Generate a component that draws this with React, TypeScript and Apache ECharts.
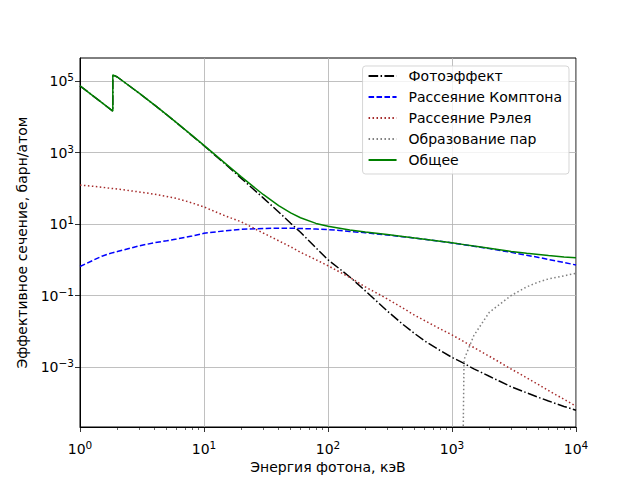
import { useEffect, useRef } from 'react';
import * as echarts from 'echarts';

// Photon energy, keV (1.839 keV repeated: Si K-edge)
const energies = [1, 1.5, 1.839, 1.839, 2, 3, 4, 5, 6, 8, 10, 15, 20, 30, 40, 50, 60, 80, 100, 150, 200, 300, 400, 500, 600, 800, 1000, 1250, 1500, 2000, 3000, 4000, 5000, 6000, 8000, 10000];

// Cross-sections, barn/atom
const photoValues = [73080, 24840, 14320, 148800, 129400, 45550, 21050, 11370, 6800, 2970, 1545, 460, 189, 54, 21.7, 10.5, 5.9, 2.15, 1.0, 0.33, 0.135, 0.037, 0.0158, 0.0086, 0.0054, 0.0029, 0.00186, 0.00126, 0.00089, 0.00055, 0.00028, 0.00019, 0.000141, 0.000112, 0.000079, 0.000062];
const comptonValues = [0.65, 1.26, 1.58, 1.58, 1.7, 2.45, 3.0, 3.4, 3.8, 4.6, 5.5, 6.5, 7.1, 7.5, 7.6, 7.6, 7.5, 7.25, 7.0, 6.21, 5.69, 4.95, 4.43, 4.05, 3.75, 3.29, 2.96, 2.64, 2.4, 2.05, 1.61, 1.34, 1.16, 1.02, 0.84, 0.714];
const rayleighValues = [123, 107, 98, 98, 95, 79, 68, 59, 52, 39, 30, 16.6, 11.5, 5.6, 3.4, 2.3, 1.62, 1.0, 0.68, 0.32, 0.174, 0.081, 0.045, 0.028, 0.02, 0.0117, 0.0079, 0.0051, 0.0035, 0.002, 0.00088, 0.0005, 0.00032, 0.00022, 0.000125, 0.00008];
const totalValues = [73200, 24950, 14420, 148900, 129500, 45630, 21120, 11430, 6856, 3017, 1581, 482, 208, 67, 32.7, 20.4, 15.0, 10.4, 8.6, 6.8, 6.0, 5.07, 4.49, 4.09, 3.77, 3.3, 2.97, 2.65, 2.41, 2.09, 1.71, 1.51, 1.4, 1.31, 1.2, 1.14];

const pairEnergies = [1022, 1250, 1500, 2000, 3000, 4000, 5000, 6000, 8000, 10000];
const pairValues = [1e-30, 0.0016, 0.0076, 0.034, 0.1, 0.174, 0.24, 0.29, 0.355, 0.42];

const seriesNames = ['Фотоэффект', 'Рассеяние Комптона', 'Рассеяние Рэлея', 'Образование пар', 'Общее'];

const xMajorTicks = [1, 10, 100, 1000, 10000];
const xMinorTicks = [2, 3, 4, 5, 6, 7, 8, 9, 20, 30, 40, 50, 60, 70, 80, 90, 200, 300, 400, 500, 600, 700, 800, 900, 2000, 3000, 4000, 5000, 6000, 7000, 8000, 9000];
const yMajorTicks = [1e-3, 1e-1, 1e1, 1e3, 1e5];

const X_MIN = 1;
const X_MAX = 10000;
const Y_MIN = 2.1e-5;
const Y_MAX = 4.4e5;

function powLabel(v: number): string {
  const e = Math.round(Math.log10(v));
  const s = e < 0 ? '−' + String(-e) : String(e);
  return '{b|10}{s|' + s + '}';
}

const zip = (xs: number[], ys: number[]) => xs.map((x, i) => [x, ys[i]]);

const FONT = 'DejaVu Sans';
const labelRich = {
  b: { fontSize: 14, fontFamily: FONT, color: '#000' },
  s: { fontSize: 10.5, fontFamily: FONT, color: '#000', padding: [0, 0, 8, 0] },
};

export default function App() {
  const ref = useRef<HTMLDivElement>(null);
  useEffect(() => {
    if (!ref.current) return;
    const chart = echarts.init(ref.current, undefined, { renderer: 'svg' });
    const lineBase = { type: 'line', showSymbol: false, symbol: 'none', clip: true, smooth: false };
    chart.setOption({
      animation: false,
      backgroundColor: '#ffffff',
      textStyle: { fontFamily: FONT },
      grid: { left: 80, right: 64, top: 58, bottom: 53, show: true, borderColor: '#000', borderWidth: 1, backgroundColor: 'transparent', containLabel: false, outerBoundsMode: 'none' },
      legend: {
        orient: 'vertical',
        right: 71,
        top: 66,
        data: seriesNames,
        itemWidth: 28,
        itemHeight: 14,
        itemGap: 7,
        padding: [3, 7, 7, 5],
        backgroundColor: 'rgba(255,255,255,0.8)',
        borderColor: 'rgba(204,204,204,0.8)',
        borderWidth: 1,
        borderRadius: 3,
        itemStyle: { opacity: 0, borderWidth: 0 },
        textStyle: { fontSize: 14, fontFamily: FONT, color: '#000', padding: [0, 0, 0, 7] },
      },
      xAxis: [
        {
          type: 'log',
          logBase: 10,
          min: X_MIN,
          max: X_MAX,
          position: 'bottom',
          name: 'Энергия фотона, кэВ',
          nameLocation: 'middle',
          nameGap: 33,
          nameTextStyle: { fontSize: 14, fontFamily: FONT, color: '#000' },
          axisLine: { show: true, lineStyle: { color: '#000', width: 1 } },
          axisTick: { show: true, inside: false, length: 5, customValues: xMajorTicks, lineStyle: { color: '#000', width: 0.8 } },
          axisLabel: { show: true, customValues: xMajorTicks, formatter: (v: number) => powLabel(v), rich: labelRich, margin: 12 },
          splitLine: { show: true, lineStyle: { color: '#b0b0b0', width: 0.8 } },
          minorTick: { show: false },
        },
        {
          type: 'log',
          logBase: 10,
          min: X_MIN,
          max: X_MAX,
          position: 'bottom',
          axisLine: { show: false },
          axisTick: { show: true, inside: false, length: 3, customValues: xMinorTicks, lineStyle: { color: '#000', width: 0.6 } },
          axisLabel: { show: false },
          splitLine: { show: false },
        },
      ],
      yAxis: {
        type: 'log',
        logBase: 10,
        min: Y_MIN,
        max: Y_MAX,
        name: 'Эффективное сечение, барн/атом',
        nameLocation: 'middle',
        nameGap: 51,
        nameTextStyle: { fontSize: 14, fontFamily: FONT, color: '#000' },
        axisLine: { show: true, lineStyle: { color: '#000', width: 1 } },
        axisTick: { show: true, inside: false, length: 5, customValues: yMajorTicks, lineStyle: { color: '#000', width: 0.8 } },
        axisLabel: { show: true, customValues: yMajorTicks, formatter: (v: number) => powLabel(v), rich: labelRich, margin: 6 },
        splitLine: { show: true, lineStyle: { color: '#b0b0b0', width: 0.8 } },
        minorTick: { show: false },
      },
      series: [
        { ...lineBase, name: seriesNames[0], data: zip(energies, photoValues), color: '#000000', lineStyle: { color: '#000000', width: 1.5, type: [9.6, 2.4, 1.5, 2.4] } },
        { ...lineBase, name: seriesNames[1], data: zip(energies, comptonValues), color: '#0000ff', lineStyle: { color: '#0000ff', width: 1.5, type: [5.55, 2.4] } },
        { ...lineBase, name: seriesNames[2], data: zip(energies, rayleighValues), color: '#a52a2a', lineStyle: { color: '#a52a2a', width: 1.5, type: [1.5, 2.475] } },
        { ...lineBase, name: seriesNames[3], data: zip(pairEnergies, pairValues), color: '#808080', lineStyle: { color: '#808080', width: 1.5, type: [1.5, 2.475] } },
        { ...lineBase, name: seriesNames[4], data: zip(energies, totalValues), color: '#008000', lineStyle: { color: '#008000', width: 1.5, type: 'solid' } },
      ],
    });
    return () => chart.dispose();
  }, []);
  return <div ref={ref} style={{ position: 'fixed', left: 0, top: 0, width: 640, height: 480 }} />;
}
